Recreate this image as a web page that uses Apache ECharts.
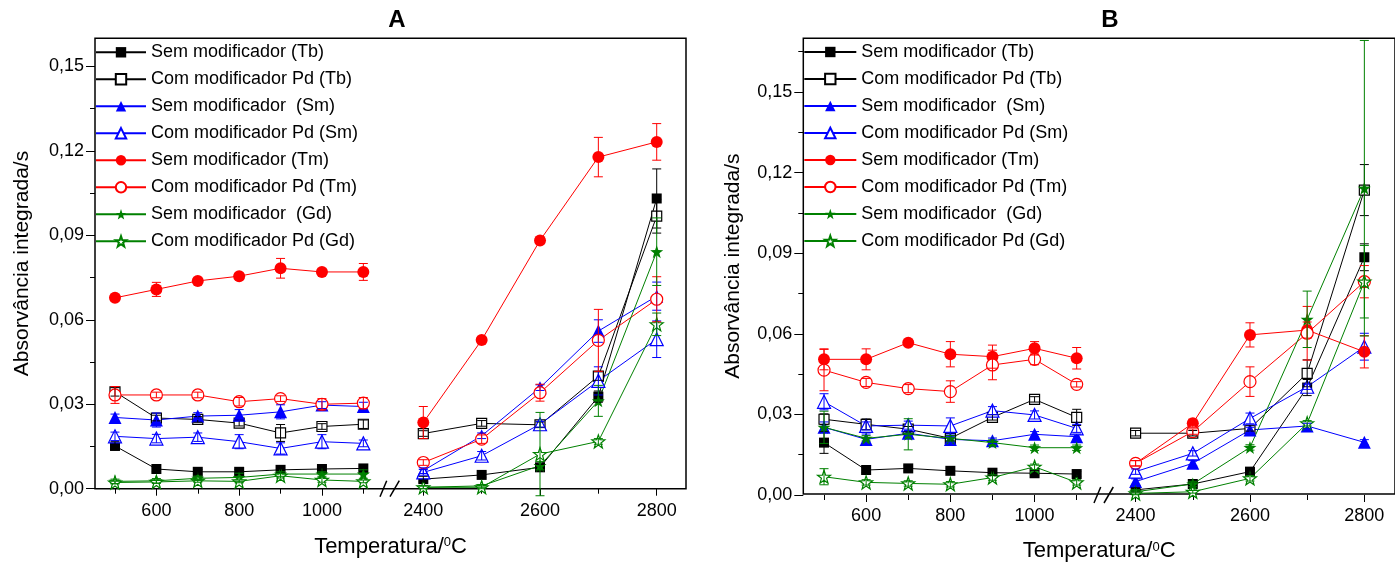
<!DOCTYPE html>
<html>
<head>
<meta charset="utf-8">
<script src="https://cdn.jsdelivr.net/npm/echarts@6/dist/echarts.min.js"></script>
<style>
  html, body { margin: 0; padding: 0; background: #ffffff; }
  #chart { width: 1395px; height: 567px; }
</style>
</head>
<body>
<div id="chart"></div>
<script>
// Furnace temperatures (°C): pyrolysis range, then atomization range
const temperatures = [500, 600, 700, 800, 900, 1000, 1100, 2400, 2500, 2600, 2700, 2800];
const lowCount = 7;

const seriesNames = [
  'Sem modificador (Tb)',
  'Com modificador Pd (Tb)',
  'Sem modificador  (Sm)',
  'Com modificador Pd (Sm)',
  'Sem modificador (Tm)',
  'Com modificador Pd (Tm)',
  'Sem modificador  (Gd)',
  'Com modificador Pd (Gd)'
];

// ---- Panel A: integrated absorbance (s) and standard deviations ----
const aTbSem     = [0.0152, 0.0070, 0.0060, 0.0060, 0.0067, 0.0070, 0.0072, 0.0034, 0.0049, 0.0076, 0.0327, 0.1031];
const aTbSemErr  = [0.0015, 0.0010, 0.0008, 0.0008, 0.0008, 0.0008, 0.0008, 0.0010, 0.0010, 0.0010, 0.0020, 0.0105];
const aTbPd      = [0.0344, 0.0251, 0.0246, 0.0233, 0.0198, 0.0221, 0.0229, 0.0196, 0.0232, 0.0227, 0.0400, 0.0968];
const aTbPdErr   = [0.0015, 0.0010, 0.0010, 0.0010, 0.0030, 0.0010, 0.0015, 0.0010, 0.0010, 0.0010, 0.0015, 0.0060];
const aSmSem     = [0.0253, 0.0244, 0.0258, 0.0261, 0.0273, 0.0297, 0.0292, 0.0064, 0.0188, 0.0359, 0.0560, 0.0684];
const aSmSemErr  = [0.0012, 0.0025, 0.0012, 0.0020, 0.0025, 0.0012, 0.0015, 0.0010, 0.0010, 0.0010, 0.0040, 0.0050];
const aSmPd      = [0.0186, 0.0178, 0.0183, 0.0167, 0.0143, 0.0167, 0.0161, 0.0058, 0.0117, 0.0229, 0.0383, 0.0531];
const aSmPdErr   = [0.0015, 0.0015, 0.0015, 0.0025, 0.0020, 0.0025, 0.0012, 0.0010, 0.0015, 0.0010, 0.0050, 0.0065];
const aTmSem     = [0.0678, 0.0708, 0.0738, 0.0755, 0.0783, 0.0770, 0.0770, 0.0235, 0.0528, 0.0882, 0.1178, 0.1232];
const aTmSemErr  = [0.0010, 0.0025, 0.0010, 0.0010, 0.0035, 0.0010, 0.0030, 0.0057, 0.0010, 0.0010, 0.0070, 0.0065];
const aTmPd      = [0.0333, 0.0333, 0.0333, 0.0309, 0.0320, 0.0300, 0.0304, 0.0093, 0.0176, 0.0341, 0.0527, 0.0673];
const aTmPdErr   = [0.0030, 0.0010, 0.0010, 0.0015, 0.0010, 0.0020, 0.0020, 0.0010, 0.0015, 0.0030, 0.0110, 0.0080];
const aGdSem     = [0.0026, 0.0028, 0.0037, 0.0040, 0.0052, 0.0052, 0.0052, 0.0005, 0.0010, 0.0082, 0.0312, 0.0842];
const aGdSemErr  = [0.0008, 0.0008, 0.0008, 0.0015, 0.0008, 0.0008, 0.0015, 0.0005, 0.0005, 0.0015, 0.0055, 0.0120];
const aGdPd      = [0.0022, 0.0024, 0.0028, 0.0026, 0.0046, 0.0031, 0.0026, 0.0005, 0.0005, 0.0123, 0.0168, 0.0584];
const aGdPdErr   = [0.0005, 0.0005, 0.0005, 0.0005, 0.0008, 0.0008, 0.0005, 0.0005, 0.0005, 0.0148, 0.0010, 0.0040];

// ---- Panel B ----
const bTbSem     = [0.0195, 0.0093, 0.0099, 0.0090, 0.0083, 0.0081, 0.0078, 0.0019, 0.0041, 0.0087, 0.0400, 0.0885];
const bTbSemErr  = [0.0040, 0.0010, 0.0010, 0.0010, 0.0010, 0.0010, 0.0010, 0.0008, 0.0010, 0.0010, 0.0030, 0.0050];
const bTbPd      = [0.0282, 0.0263, 0.0245, 0.0211, 0.0289, 0.0356, 0.0289, 0.0230, 0.0230, 0.0248, 0.0453, 0.1135];
const bTbPdErr   = [0.0020, 0.0020, 0.0010, 0.0010, 0.0010, 0.0010, 0.0030, 0.0010, 0.0010, 0.0010, 0.0050, 0.0095];
const bSmSem     = [0.0252, 0.0207, 0.0230, 0.0207, 0.0202, 0.0226, 0.0217, 0.0050, 0.0118, 0.0242, 0.0257, 0.0196];
const bSmSemErr  = [0.0020, 0.0020, 0.0010, 0.0010, 0.0010, 0.0010, 0.0010, 0.0010, 0.0010, 0.0010, 0.0010, 0.0010];
const bSmPd      = [0.0347, 0.0257, 0.0260, 0.0257, 0.0314, 0.0298, 0.0248, 0.0087, 0.0155, 0.0285, 0.0403, 0.0552];
const bSmPdErr   = [0.0030, 0.0015, 0.0015, 0.0030, 0.0015, 0.0015, 0.0015, 0.0010, 0.0010, 0.0020, 0.0010, 0.0050];
const bTmSem     = [0.0505, 0.0505, 0.0567, 0.0524, 0.0515, 0.0546, 0.0509, 0.0118, 0.0267, 0.0596, 0.0614, 0.0533];
const bTmSemErr  = [0.0039, 0.0039, 0.0010, 0.0047, 0.0043, 0.0025, 0.0040, 0.0010, 0.0015, 0.0045, 0.0030, 0.0060];
const bTmPd      = [0.0465, 0.0419, 0.0396, 0.0385, 0.0484, 0.0505, 0.0412, 0.0118, 0.0236, 0.0422, 0.0602, 0.0794];
const bTmPdErr   = [0.0077, 0.0015, 0.0015, 0.0040, 0.0055, 0.0020, 0.0010, 0.0010, 0.0010, 0.0055, 0.0100, 0.0060];
const bGdSem     = [0.0252, 0.0211, 0.0226, 0.0211, 0.0195, 0.0176, 0.0176, 0.0012, 0.0041, 0.0177, 0.0654, 0.1142];
const bGdSemErr  = [0.0060, 0.0010, 0.0058, 0.0010, 0.0010, 0.0010, 0.0010, 0.0008, 0.0010, 0.0010, 0.0105, 0.0550];
const bGdPd      = [0.0068, 0.0047, 0.0043, 0.0040, 0.0065, 0.0105, 0.0047, 0.0006, 0.0012, 0.0062, 0.0267, 0.0794];
const bGdPdErr   = [0.0030, 0.0010, 0.0010, 0.0010, 0.0010, 0.0010, 0.0010, 0.0005, 0.0005, 0.0010, 0.0010, 0.0135];

// ---- Tick values ----
const xLowLabels  = [600, 800, 1000];
const xLowMinor   = [500, 700, 900, 1100];
const xHighLabels = [2400, 2600, 2800];
const xHighMinor  = [2500, 2700];
const yLabels     = [0, 0.03, 0.06, 0.09, 0.12, 0.15];
const yMinorA     = [0.015, 0.045, 0.075, 0.105, 0.135];
const yMinorB     = [0.015, 0.045, 0.075, 0.105, 0.135, 0.165];

const panelSeries = {
  A: [[aTbSem, aTbSemErr], [aTbPd, aTbPdErr], [aSmSem, aSmSemErr], [aSmPd, aSmPdErr],
      [aTmSem, aTmSemErr], [aTmPd, aTmPdErr], [aGdSem, aGdSemErr], [aGdPd, aGdPdErr]],
  B: [[bTbSem, bTbSemErr], [bTbPd, bTbPdErr], [bSmSem, bSmSemErr], [bSmPd, bSmPdErr],
      [bTmSem, bTmSemErr], [bTmPd, bTmPdErr], [bGdSem, bGdSemErr], [bGdPd, bGdPdErr]]
};

const FONT = 'Arial, "Liberation Sans", Helvetica, sans-serif';
const STAR = 'path://M0,-10L2.351,-3.236L9.511,-3.09L3.804,1.236L5.878,8.09L0,4L-5.878,8.09L-3.804,1.236L-9.511,-3.09L-2.351,-3.236Z';

const markerStyles = [
  { color: '#000000', symbol: 'rect',     size: 10, open: false },
  { color: '#000000', symbol: 'rect',     size: 10, open: true  },
  { color: '#0000ff', symbol: 'triangle', size: 13, open: false },
  { color: '#0000ff', symbol: 'triangle', size: 13, open: true  },
  { color: '#ff0000', symbol: 'circle',   size: 12, open: false },
  { color: '#ff0000', symbol: 'circle',   size: 12, open: true  },
  { color: '#008000', symbol: STAR,       size: 13, open: false },
  { color: '#008000', symbol: STAR,       size: 13, open: true  }
];

// Page layout of the two panels; each has a frame plus two segments of a broken x axis
const panels = [
  {
    key: 'A', top: 38.3, height: 450.4, yMax: 0.16, yMinor: yMinorA,
    frame: { left: 95, width: 591 },
    low:  { left: 95,  width: 294, min: 451.7,  max: 1162 },
    high: { left: 389, width: 297, min: 2341.2, max: 2850.2 },
    xLabelMargin: 13, xNameGap: 47, yNameGap: 62,
    legend: { left: 95, top: 42.3, itemWidth: 50 },
    title: { x: 397, y: 20 },
    breakX: 389
  },
  {
    key: 'B', top: 38.3, height: 456.7, yMax: 0.17, yMinor: yMinorB,
    frame: { left: 803.3, width: 601.7 },
    low:  { left: 803.3, width: 299.7, min: 450.8, max: 1162.5 },
    high: { left: 1103,  width: 302,   min: 2343,  max: 2853.6 },
    xLabelMargin: 12, xNameGap: 46, yNameGap: 60,
    legend: { left: 803.3, top: 42, itemWidth: 52 },
    title: { x: 1110, y: 20 },
    breakX: 1103
  }
];

const fmtComma = v => v.toFixed(2).replace('.', ',');
const fmtPlain = v => String(v);

function hiddenAxis(gridIndex, extra) {
  return Object.assign({
    gridIndex, type: 'value', min: 0, max: 1,
    axisLine: { show: false }, axisTick: { show: false },
    axisLabel: { show: false }, splitLine: { show: false }
  }, extra);
}

function mainX(gridIndex, min, max, labels, margin) {
  return {
    gridIndex, type: 'value', min, max, position: 'bottom',
    axisLine: { show: false },
    axisTick: { show: true, customValues: labels, length: 7, lineStyle: { color: '#000', width: 1 } },
    axisLabel: { customValues: labels, margin, fontSize: 18, fontFamily: FONT, color: '#000', formatter: fmtPlain },
    splitLine: { show: false }
  };
}

function minorX(gridIndex, min, max, ticks) {
  return {
    gridIndex, type: 'value', min, max, position: 'bottom',
    axisLine: { show: false },
    axisTick: { show: true, customValues: ticks, length: 5, lineStyle: { color: '#000', width: 1 } },
    axisLabel: { show: false },
    splitLine: { show: false }
  };
}

function mainY(gridIndex, max) {
  return {
    gridIndex, type: 'value', min: 0, max, position: 'left',
    axisLine: { show: false },
    axisTick: { show: true, customValues: yLabels, length: 9, lineStyle: { color: '#000', width: 1 } },
    axisLabel: { customValues: yLabels, margin: 11, fontSize: 18, fontFamily: FONT, color: '#000', formatter: fmtComma },
    splitLine: { show: false }
  };
}

function minorY(gridIndex, max, ticks) {
  return {
    gridIndex, type: 'value', min: 0, max, position: 'left',
    axisLine: { show: false },
    axisTick: { show: true, customValues: ticks, length: 5, lineStyle: { color: '#000', width: 1 } },
    axisLabel: { show: false },
    splitLine: { show: false }
  };
}

function errorBarRenderer(color) {
  return function (params, api) {
    const x = api.value(0), y = api.value(1), e = api.value(2);
    const hi = api.coord([x, y + e]);
    const lo = api.coord([x, y - e]);
    const half = 4.5;
    const style = { stroke: color, lineWidth: 1, fill: null };
    return {
      type: 'group',
      children: [
        { type: 'line', shape: { x1: hi[0], y1: hi[1], x2: lo[0], y2: lo[1] }, style },
        { type: 'line', shape: { x1: hi[0] - half, y1: hi[1], x2: hi[0] + half, y2: hi[1] }, style },
        { type: 'line', shape: { x1: lo[0] - half, y1: lo[1], x2: lo[0] + half, y2: lo[1] }, style }
      ]
    };
  };
}

const grids = [], xAxes = [], yAxes = [], series = [], legends = [], graphics = [];

panels.forEach(p => {
  const g0 = grids.length;
  grids.push({ left: p.frame.left, top: p.top, width: p.frame.width, height: p.height,
               show: true, borderColor: '#000', borderWidth: 1.5, backgroundColor: 'transparent', containLabel: false });
  grids.push({ left: p.low.left, top: p.top, width: p.low.width, height: p.height, containLabel: false });
  grids.push({ left: p.high.left, top: p.top, width: p.high.width, height: p.height, containLabel: false });

  const x0 = xAxes.length;
  xAxes.push(hiddenAxis(g0, {
    name: 'Temperatura/{sup|0}C', nameLocation: 'middle', nameGap: p.xNameGap,
    nameTextStyle: { fontSize: 22, fontFamily: FONT, color: '#000',
                     rich: { sup: { fontSize: 13, fontFamily: FONT, color: '#000', padding: [0, 0, 8, 0] } } }
  }));
  xAxes.push(mainX(g0 + 1, p.low.min, p.low.max, xLowLabels, p.xLabelMargin));
  xAxes.push(minorX(g0 + 1, p.low.min, p.low.max, xLowMinor));
  xAxes.push(mainX(g0 + 2, p.high.min, p.high.max, xHighLabels, p.xLabelMargin));
  xAxes.push(minorX(g0 + 2, p.high.min, p.high.max, xHighMinor));

  const y0 = yAxes.length;
  yAxes.push(hiddenAxis(g0, {
    name: 'Absorvância integrada/s', nameLocation: 'middle', nameGap: p.yNameGap,
    nameTextStyle: { fontSize: 21, fontFamily: FONT, color: '#000' }
  }));
  yAxes.push(mainY(g0 + 1, p.yMax));
  yAxes.push(minorY(g0 + 1, p.yMax, p.yMinor));
  yAxes.push({ gridIndex: g0 + 2, type: 'value', min: 0, max: p.yMax, show: false });

  const segments = [
    { xi: x0 + 1, yi: y0 + 1, from: 0, to: lowCount },
    { xi: x0 + 3, yi: y0 + 3, from: lowCount, to: temperatures.length }
  ];

  panelSeries[p.key].forEach(([vals, errs], si) => {
    const st = markerStyles[si];
    segments.forEach(seg => {
      const pts = [], bars = [];
      for (let i = seg.from; i < seg.to; i++) {
        pts.push([temperatures[i], vals[i]]);
        bars.push([temperatures[i], vals[i], errs[i]]);
      }
      series.push({
        type: 'line', name: seriesNames[si],
        xAxisIndex: seg.xi, yAxisIndex: seg.yi, data: pts,
        symbol: st.symbol, symbolSize: st.size, showAllSymbol: true,
        lineStyle: { color: st.color, width: 1 },
        itemStyle: st.open
          ? { color: '#ffffff', borderColor: st.color, borderWidth: 1.2 }
          : { color: st.color, borderColor: st.color, borderWidth: 0 },
        emphasis: { disabled: true }, silent: true, z: 3
      });
      series.push({
        type: 'custom', name: 'err-' + p.key + '-' + si,
        xAxisIndex: seg.xi, yAxisIndex: seg.yi, data: bars,
        renderItem: errorBarRenderer(st.color), clip: false, silent: true, z: 4
      });
    });
  });

  legends.push({
    left: p.legend.left, top: p.legend.top, orient: 'vertical', padding: 0,
    itemWidth: p.legend.itemWidth, itemHeight: 13, itemGap: 7, selectedMode: false,
    textStyle: { fontSize: 18, fontFamily: FONT, color: '#000', lineHeight: 20 },
    data: seriesNames
  });

  // Panel letter
  graphics.push({ type: 'text', x: p.title.x, y: p.title.y,
    style: { text: p.key, font: 'bold 24px ' + FONT, fill: '#000', align: 'center', verticalAlign: 'middle' } });
  // Axis-break marks on the bottom axis
  const yb = p.top + p.height;
  [[-9, -2.3], [1, 10.3]].forEach(([a, b]) => {
    graphics.push({ type: 'line', shape: { x1: p.breakX + a, y1: yb + 8, x2: p.breakX + b, y2: yb - 8 },
                    style: { stroke: '#000', lineWidth: 1.5 } });
  });
});

const chart = echarts.init(document.getElementById('chart'));
chart.setOption({
  animation: false,
  backgroundColor: '#ffffff',
  grid: grids,
  xAxis: xAxes,
  yAxis: yAxes,
  legend: legends,
  series: series,
  graphic: graphics
});
</script>
</body>
</html>
